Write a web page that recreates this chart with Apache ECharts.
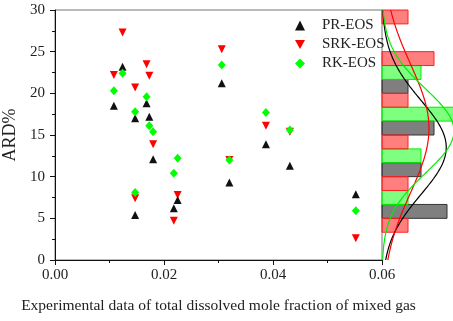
<!DOCTYPE html>
<html>
<head>
<meta charset="utf-8">
<script src="https://cdn.jsdelivr.net/npm/echarts@6/dist/echarts.min.js"></script>
<style>
html, body { margin: 0; padding: 0; background: #fff; }
#chart { width: 453px; height: 321px; }
</style>
</head>
<body>
<div id="chart"></div>
<script>
// mole fraction (x) for each experiment
const moleFrac = [0.0108, 0.0124, 0.0147, 0.0147, 0.0168, 0.0173, 0.0180, 0.0218, 0.0225, 0.0306, 0.0320, 0.0387, 0.0431, 0.0552];
// ARD% per model
const prArd = [18.5, 23.2, 17.0, 5.4, 18.8, 17.2, 12.1, 6.2, 7.2, 21.2, 9.3, 13.9, 11.3, 7.9];
const srkArd = [22.2, 27.3, 20.7, 7.4, 23.5, 22.1, 13.9, 4.7, 7.8, 25.3, 12.0, 16.1, 15.4, 2.6];
const rkArd = [20.3, 22.4, 17.8, 8.1, 19.6, 16.1, 15.4, 10.4, 12.2, 23.4, 12.0, 17.7, 15.6, 5.9];
const binEdges = [0, 5, 10, 15, 20, 25];
const binWidth = 5;
const xTicks = [0, 0.02, 0.04, 0.06];
const yTicks = [0, 5, 10, 15, 20, 25, 30];

const FONT = 'Liberation Serif';

function pairs(ys) {
    return ys.map((y, i) => [moleFrac[i], y]);
}

function counts(vals) {
    return binEdges.map((e) => vals.filter((v) => v >= e && v < e + binWidth).length);
}

// histogram bars: each bin split in three slots, PR bottom, RK middle, SRK top
function histData(vals, slot) {
    const c = counts(vals);
    const out = [];
    binEdges.forEach((e, i) => {
        if (c[i] > 0) out.push([c[i], e + slot * binWidth / 3, e + (slot + 1) * binWidth / 3]);
    });
    return out;
}

// normal fit of the values, scaled to counts
function fitCurve(vals) {
    const n = vals.length;
    const mean = vals.reduce((a, b) => a + b, 0) / n;
    const sd = Math.sqrt(vals.reduce((a, b) => a + (b - mean) * (b - mean), 0) / n);
    const pts = [];
    for (let y = 0; y <= 30.001; y += 0.25) {
        const c = n * binWidth / (sd * Math.sqrt(2 * Math.PI)) * Math.exp(-((y - mean) ** 2) / (2 * sd * sd));
        pts.push([c, y]);
    }
    return pts;
}

function barRenderer(fill, stroke) {
    return function (params, api) {
        const a = api.coord([0, api.value(2)]);
        const b = api.coord([api.value(0), api.value(1)]);
        return {
            type: 'rect',
            shape: { x: a[0], y: a[1], width: b[0] - a[0], height: b[1] - a[1] },
            style: { fill: fill, stroke: stroke, lineWidth: 1 },
        };
    };
}

const axisText = { fontFamily: FONT, fontSize: 15, color: '#222' };
const chart = echarts.init(document.getElementById('chart'));
chart.setOption({
    animation: false,
    grid: [
        { left: 55, top: 10, width: 327, height: 250, show: true, borderColor: '#777', borderWidth: 1, containLabel: false, outerBoundsMode: 'none' },
        { left: 382, top: 10, width: 78, height: 250, containLabel: false, outerBoundsMode: 'none' },
    ],
    legend: {
        data: ['PR-EOS', 'SRK-EOS', 'RK-EOS'],
        orient: 'vertical',
        left: 290,
        top: 13,
        itemWidth: 10,
        itemHeight: 10,
        itemGap: 4,
        textStyle: { fontFamily: FONT, fontSize: 15, color: '#222', padding: [0, 0, 0, 12] },
    },
    xAxis: [
        {
            type: 'value', gridIndex: 0, min: xTicks[0], max: xTicks[xTicks.length - 1], interval: 0.02,
            axisLine: { lineStyle: { color: '#111', width: 1 } },
            axisTick: { inside: false, length: 5, lineStyle: { color: '#111' } },
            minorTick: { show: true, splitNumber: 2, length: 3, lineStyle: { color: '#111' } },
            splitLine: { show: false },
            axisLabel: { ...axisText, margin: 8, formatter: (v) => v.toFixed(2) },
            name: 'Experimental data of total dissolved mole fraction of mixed gas',
            nameLocation: 'middle',
            nameGap: 38,
            nameTextStyle: { fontFamily: FONT, fontSize: 15.5, color: '#222' },
        },
        { type: 'value', gridIndex: 1, min: 0, max: 6, show: false },
    ],
    yAxis: [
        {
            type: 'value', gridIndex: 0, min: yTicks[0], max: yTicks[yTicks.length - 1], interval: 5,
            axisLine: { show: true, lineStyle: { color: '#111', width: 1 } },
            axisTick: { show: true, inside: false, length: 5, lineStyle: { color: '#111' } },
            minorTick: { show: true, splitNumber: 2, length: 3, lineStyle: { color: '#111' } },
            splitLine: { show: false },
            axisLabel: { ...axisText, margin: 10 },
            name: 'ARD%',
            nameLocation: 'middle',
            nameGap: 27,
            nameTextStyle: { fontFamily: FONT, fontSize: 18, color: '#222' },
        },
        { type: 'value', gridIndex: 1, min: 0, max: 30, show: false },
    ],
    series: [
        {
            name: 'SRK-EOS', type: 'scatter', data: pairs(srkArd),
            symbol: 'path://M0,0L2,0L1,1.8Z', symbolSize: 8,
            itemStyle: { color: '#ff0000', opacity: 1 },
        },
        {
            name: 'PR-EOS', type: 'scatter', data: pairs(prArd),
            symbol: 'triangle', symbolSize: 8,
            itemStyle: { color: '#111', opacity: 1 },
        },
        {
            name: 'RK-EOS', type: 'scatter', data: pairs(rkArd),
            symbol: 'diamond', symbolSize: [8, 9],
            itemStyle: { color: '#00ff00', opacity: 1 },
        },
        {
            type: 'custom', xAxisIndex: 1, yAxisIndex: 1, data: histData(prArd, 0),
            encode: { x: 0, y: [1, 2] }, renderItem: barRenderer('rgba(0,0,0,0.5)', '#333'),
        },
        {
            type: 'custom', xAxisIndex: 1, yAxisIndex: 1, data: histData(rkArd, 1),
            encode: { x: 0, y: [1, 2] }, renderItem: barRenderer('rgba(0,255,0,0.5)', '#00ee00'),
        },
        {
            type: 'custom', xAxisIndex: 1, yAxisIndex: 1, data: histData(srkArd, 2),
            encode: { x: 0, y: [1, 2] }, renderItem: barRenderer('rgba(255,0,0,0.5)', '#ff2020'),
        },
        {
            type: 'line', xAxisIndex: 1, yAxisIndex: 1, data: fitCurve(prArd),
            showSymbol: false, lineStyle: { color: '#000', width: 1.2 }, silent: true,
        },
        {
            type: 'line', xAxisIndex: 1, yAxisIndex: 1, data: fitCurve(srkArd),
            showSymbol: false, lineStyle: { color: '#ff0000', width: 1.2 }, silent: true,
        },
        {
            type: 'line', xAxisIndex: 1, yAxisIndex: 1, data: fitCurve(rkArd),
            showSymbol: false, lineStyle: { color: '#00ee00', width: 1.2 }, silent: true,
        },
    ],
});
</script>
</body>
</html>
